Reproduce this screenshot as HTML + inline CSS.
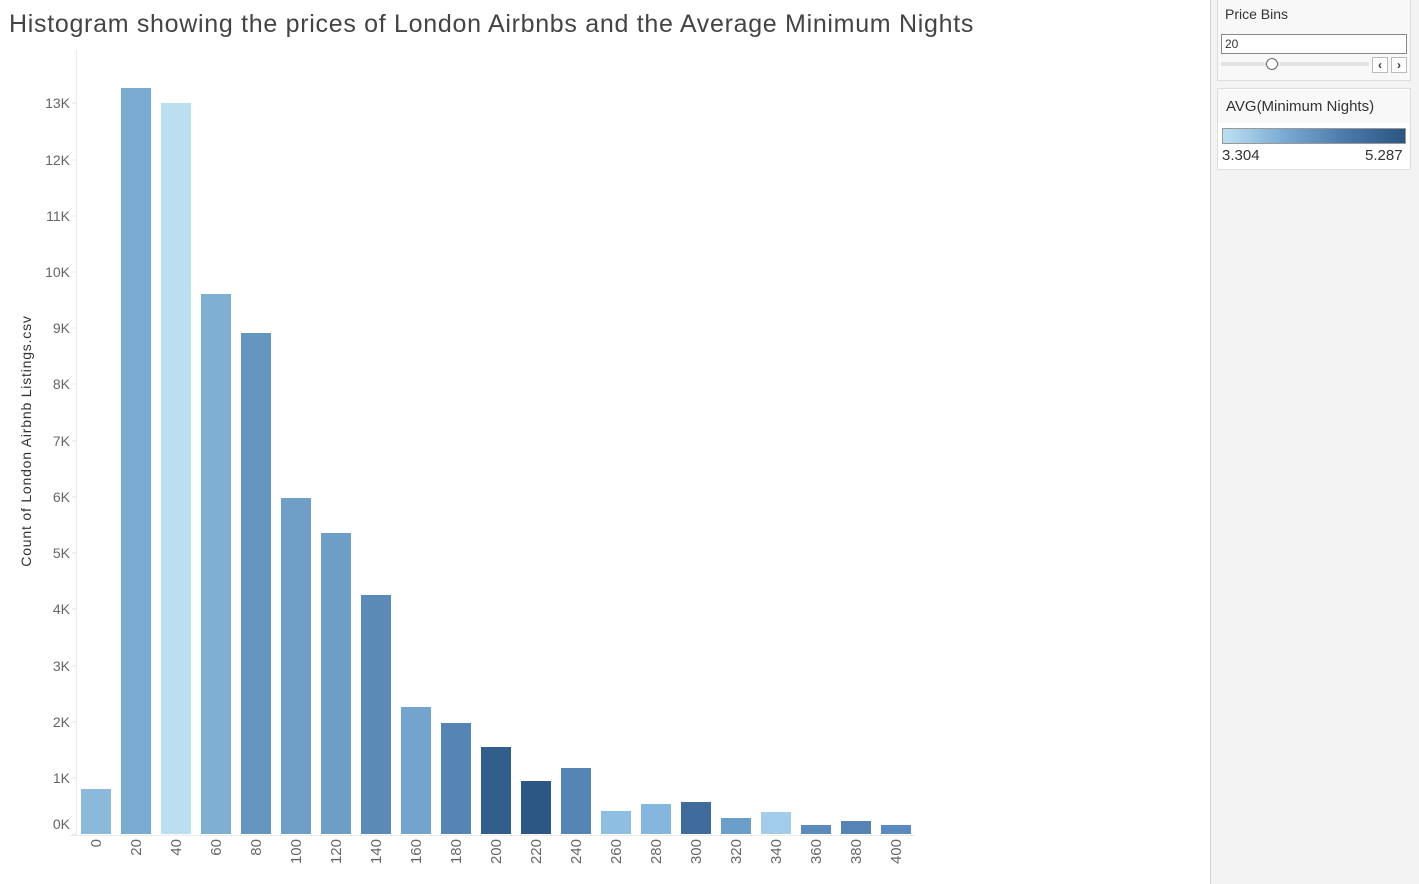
<!DOCTYPE html>
<html><head><style>
body{margin:0;width:1419px;height:884px;background:#fff;font-family:"Liberation Sans",sans-serif;position:relative;overflow:hidden}
.t{position:absolute;white-space:nowrap}
</style></head><body>
<div class="t" style="left:9px;top:10px;font-size:25px;color:#444;letter-spacing:0.7px">Histogram showing the prices of London Airbnbs and the Average Minimum Nights</div>
<svg width="1210" height="884" style="position:absolute;left:0;top:0" font-family="Liberation Sans, sans-serif">
<line x1="76.5" y1="50" x2="76.5" y2="836" stroke="#eaeaea"/>
<line x1="70" y1="835.5" x2="915" y2="835.5" stroke="#eaeaea"/>
<g font-size="14" fill="#666" text-anchor="end">
<text x="70" y="829">0K</text><text x="70" y="783">1K</text><text x="70" y="727">2K</text><text x="70" y="671">3K</text><text x="70" y="614">4K</text><text x="70" y="558">5K</text><text x="70" y="502">6K</text><text x="70" y="446">7K</text><text x="70" y="389">8K</text><text x="70" y="333">9K</text><text x="70" y="277">10K</text><text x="70" y="221">11K</text><text x="70" y="165">12K</text><text x="70" y="108">13K</text>
</g>
<g stroke="#e6e6e6"><line x1="72" y1="834" x2="76" y2="834"/><line x1="72" y1="778" x2="76" y2="778"/><line x1="72" y1="722" x2="76" y2="722"/><line x1="72" y1="666" x2="76" y2="666"/><line x1="72" y1="609" x2="76" y2="609"/><line x1="72" y1="553" x2="76" y2="553"/><line x1="72" y1="497" x2="76" y2="497"/><line x1="72" y1="441" x2="76" y2="441"/><line x1="72" y1="384" x2="76" y2="384"/><line x1="72" y1="328" x2="76" y2="328"/><line x1="72" y1="272" x2="76" y2="272"/><line x1="72" y1="216" x2="76" y2="216"/><line x1="72" y1="160" x2="76" y2="160"/><line x1="72" y1="103" x2="76" y2="103"/></g>
<text transform="translate(31,441) rotate(-90)" font-size="14" fill="#333" text-anchor="middle" letter-spacing="0.8">Count of London Airbnb Listings.csv</text>
<g>
<rect x="81" y="789" width="30" height="45" fill="#8cb8da"/>
<rect x="121" y="88" width="30" height="746" fill="#7aabd0"/>
<rect x="161" y="103" width="30" height="731" fill="#badff1"/>
<rect x="201" y="294" width="30" height="540" fill="#80afd4"/>
<rect x="241" y="333" width="30" height="501" fill="#6496c0"/>
<rect x="281" y="498" width="30" height="336" fill="#6f9fc7"/>
<rect x="321" y="533" width="30" height="301" fill="#6d9ec6"/>
<rect x="361" y="595" width="30" height="239" fill="#5a8ab5"/>
<rect x="401" y="707" width="30" height="127" fill="#73a4cd"/>
<rect x="441" y="723" width="30" height="111" fill="#5585b3"/>
<rect x="481" y="747" width="30" height="87" fill="#335e8c"/>
<rect x="521" y="781" width="30" height="53" fill="#2c5684"/>
<rect x="561" y="768" width="30" height="66" fill="#5585b5"/>
<rect x="601" y="811" width="30" height="23" fill="#8ebfe2"/>
<rect x="641" y="804" width="30" height="30" fill="#84b6de"/>
<rect x="681" y="802" width="30" height="32" fill="#3f6c9c"/>
<rect x="721" y="818" width="30" height="16" fill="#6c9ecb"/>
<rect x="761" y="812" width="30" height="22" fill="#a2cdea"/>
<rect x="801" y="825" width="30" height="9" fill="#5b8bbb"/>
<rect x="841" y="821" width="30" height="13" fill="#5583b3"/>
<rect x="881" y="825" width="30" height="9" fill="#5a8ac0"/>
</g>
<g font-size="15" fill="#666" text-anchor="end">
<text transform="translate(101,839) rotate(-90)">0</text>
<text transform="translate(141,839) rotate(-90)">20</text>
<text transform="translate(181,839) rotate(-90)">40</text>
<text transform="translate(221,839) rotate(-90)">60</text>
<text transform="translate(261,839) rotate(-90)">80</text>
<text transform="translate(301,839) rotate(-90)">100</text>
<text transform="translate(341,839) rotate(-90)">120</text>
<text transform="translate(381,839) rotate(-90)">140</text>
<text transform="translate(421,839) rotate(-90)">160</text>
<text transform="translate(461,839) rotate(-90)">180</text>
<text transform="translate(501,839) rotate(-90)">200</text>
<text transform="translate(541,839) rotate(-90)">220</text>
<text transform="translate(581,839) rotate(-90)">240</text>
<text transform="translate(621,839) rotate(-90)">260</text>
<text transform="translate(661,839) rotate(-90)">280</text>
<text transform="translate(701,839) rotate(-90)">300</text>
<text transform="translate(741,839) rotate(-90)">320</text>
<text transform="translate(781,839) rotate(-90)">340</text>
<text transform="translate(821,839) rotate(-90)">360</text>
<text transform="translate(861,839) rotate(-90)">380</text>
<text transform="translate(901,839) rotate(-90)">400</text>
</g>
</svg>
<div style="position:absolute;left:1210px;top:0;width:209px;height:884px;background:#f3f3f3;border-left:1px solid #d4d4d4"></div>
<div style="position:absolute;left:1217px;top:0;width:192px;height:80px;background:#f8f8f8;border:1px solid #ddd;border-top:none"></div>
<div class="t" style="left:1225px;top:6px;font-size:14px;color:#333">Price Bins</div>
<div style="position:absolute;left:1221px;top:34px;width:184px;height:18px;background:#fff;border:1px solid #888"></div>
<div class="t" style="left:1225px;top:37px;font-size:12px;color:#333">20</div>
<div style="position:absolute;left:1221px;top:62px;width:148px;height:4px;background:#e4e4e4"></div>
<div style="position:absolute;left:1266px;top:58px;width:10px;height:10px;border-radius:50%;background:#fff;border:1px solid #666"></div>
<div style="position:absolute;left:1372px;top:57px;width:14px;height:14px;border:1px solid #bbb;background:#fff;font-size:12px;line-height:14px;text-align:center;color:#333;font-weight:bold">‹</div>
<div style="position:absolute;left:1391px;top:57px;width:14px;height:14px;border:1px solid #bbb;background:#fff;font-size:12px;line-height:14px;text-align:center;color:#333;font-weight:bold">›</div>
<div style="position:absolute;left:1217px;top:88px;width:192px;height:80px;background:#fff;border:1px solid #ddd"></div>
<div style="position:absolute;left:1218px;top:89px;width:192px;height:34px;background:#f8f8f8"></div>
<div class="t" style="left:1226px;top:98px;font-size:15px;color:#333">AVG(Minimum Nights)</div>
<div style="position:absolute;left:1222px;top:128px;width:182px;height:14px;border:1px solid #999;background:linear-gradient(to right,#bde0f2,#7aabd2,#4b7aab,#2b5581)"></div>
<div class="t" style="left:1222px;top:147px;font-size:15px;color:#333">3.304</div>
<div class="t" style="left:1365px;top:147px;font-size:15px;color:#333">5.287</div>
</body></html>
